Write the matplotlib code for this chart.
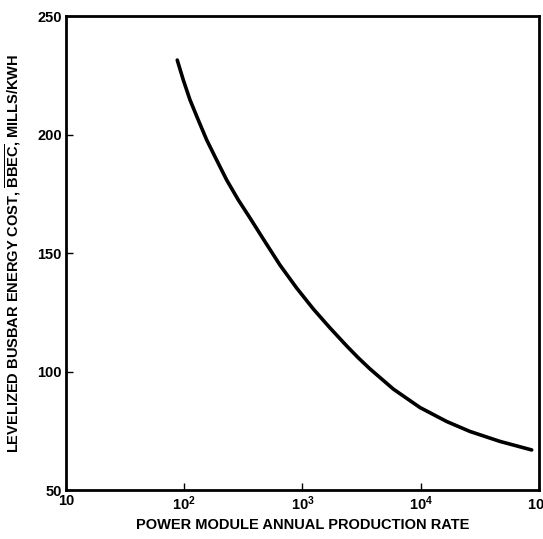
import matplotlib
matplotlib.use('Agg')
import matplotlib.pyplot as plt
from matplotlib.ticker import FixedLocator, NullLocator

# values
rate = [87.3, 98.2, 111.9, 131.5, 154.9, 188.1, 228.6, 286.5, 359.7, 466.2, 645.3, 893.5,
        1234, 1708, 2364, 2947, 3722, 5861, 9856, 16580, 26090, 46800, 86770]
cost = [231.4, 223.0, 214.6, 206.1, 197.7, 189.2, 180.8, 172.4, 164.8, 155.9, 144.9, 135.2,
        126.4, 118.4, 110.8, 105.9, 101.1, 92.6, 84.8, 78.9, 74.7, 70.5, 66.9]

x_ticks = [10, 100, 1000, 10000, 100000]
x_labels = ['10', '$10^2$', '$10^3$', '$10^4$', '$10^5$']
y_ticks = [50, 100, 150, 200, 250]

plt.rcParams['font.family'] = ['Liberation Sans', 'DejaVu Sans']
plt.rcParams['mathtext.fontset'] = 'custom'
plt.rcParams['mathtext.rm'] = 'Liberation Sans:bold'
plt.rcParams['mathtext.it'] = 'Liberation Sans:bold'

fig = plt.figure(figsize=(5.43, 5.39), dpi=100)
ax = fig.add_axes([0.1215, 0.0909, 0.8711, 0.8794])

ax.plot(rate, cost, color='black', linewidth=2.6, solid_capstyle='round', solid_joinstyle='round')

ax.set_xscale('log')
ax.set_xlim(10, 100000)
ax.set_ylim(50, 250)
ax.xaxis.set_major_locator(FixedLocator(x_ticks))
ax.xaxis.set_minor_locator(NullLocator())
ax.set_xticklabels(x_labels)
ax.set_yticks(y_ticks)

ax.tick_params(axis='both', direction='in', length=5, width=1, labelsize=10.5, pad=3)
for lbl in ax.get_xticklabels() + ax.get_yticklabels():
    lbl.set_fontweight('bold')

for s in ax.spines.values():
    s.set_linewidth(2)

ax.set_xlabel('POWER MODULE ANNUAL PRODUCTION RATE', fontsize=10.5, fontweight='bold', labelpad=4)
ax.set_ylabel(r'LEVELIZED BUSBAR ENERGY COST, $\overline{\mathrm{BBEC}}$, MILLS/KWH',
              fontsize=10.5, fontweight='bold', labelpad=10)

fig.savefig('out.png', dpi=100)
